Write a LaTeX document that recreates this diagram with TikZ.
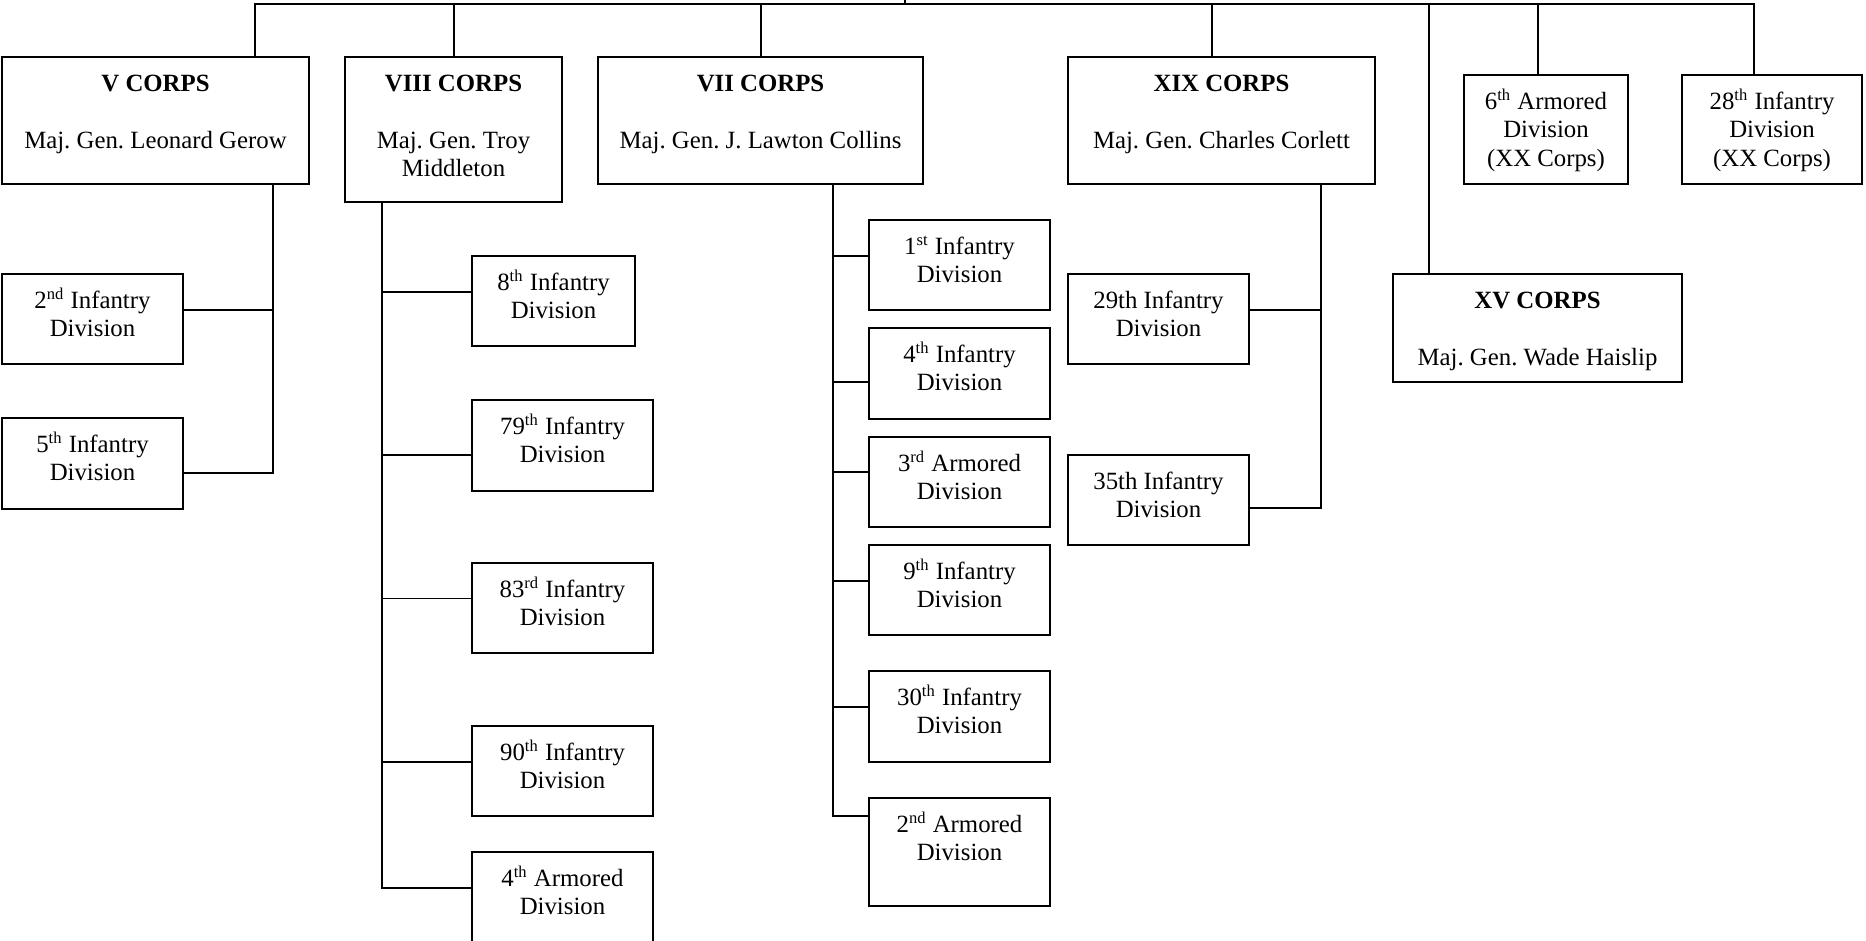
\documentclass[tikz,border=0pt]{standalone}
\usepackage{fontspec}
\setmainfont{Liberation Serif}
\frenchspacing

% ordinal suffix, raised without changing the line height
\newcommand\ord[1]{\textsuperscript{\smash{#1}}}

% \orgbox{name}{x1}{y1}{x2}{y2}{text}: framed box with its text set at the top
\newcommand\orgbox[6]{%
  \node[box, anchor=north west,
        minimum width={(#4-#2)*0.17mm}, minimum height={(#5-#3)*0.17mm}]
        (#1) at (#2,#3) {};
  \node[lbl, anchor=north, yshift=-2.41mm] (#1-txt) at (#1.north) {\strut #6};%
}

\begin{document}
\begin{tikzpicture}[x=0.17mm, y=-0.17mm,
  box/.style={draw, rectangle, line width=0.8pt, inner sep=0pt, outer sep=0pt},
  lbl/.style={align=center, inner sep=0pt, font=\fontsize{12pt}{13.7pt}\selectfont},
  link/.style={line width=0.8pt, line join=miter}]

\useasboundingbox (0,0) rectangle (1866,941);
\fill[white] (0,0) rectangle (1866,941);
\clip (0,0) rectangle (1866,941);

% ---- corps and independent divisions ----
\orgbox{V}{2}{57}{309}{184}{\textbf{V CORPS}\\[13.7pt]Maj. Gen. Leonard Gerow}
\orgbox{VIII}{345}{57}{562}{202}{\textbf{VIII CORPS}\\[13.7pt]Maj. Gen. Troy\\Middleton}
\orgbox{VII}{598}{57}{923}{184}{\textbf{VII CORPS}\\[13.7pt]Maj. Gen. J. Lawton Collins}
\orgbox{XIX}{1068}{57}{1375}{184}{\textbf{XIX CORPS}\\[13.7pt]Maj. Gen. Charles Corlett}
\orgbox{XV}{1393}{274}{1682}{382}{\textbf{XV CORPS}\\[13.7pt]Maj. Gen. Wade Haislip}
\orgbox{SixAr}{1464}{75}{1628}{184}{6\ord{th} Armored\\Division\\(XX Corps)}
\orgbox{TwEiInf}{1682}{75}{1862}{184}{28\ord{th} Infantry\\Division\\(XX Corps)}

% ---- V Corps divisions ----
\orgbox{InfB}{2}{274}{183}{364}{2\ord{nd} Infantry\\Division}
\orgbox{InfE}{2}{418}{183}{509}{5\ord{th} Infantry\\Division}

% ---- VIII Corps divisions ----
\orgbox{InfH}{472}{256}{635}{346}{8\ord{th} Infantry\\Division}
\orgbox{InfSN}{472}{400}{653}{491}{79\ord{th} Infantry\\Division}
\orgbox{InfET}{472}{563}{653}{653}{83\ord{rd} Infantry\\Division}
\orgbox{InfNZ}{472}{726}{653}{816}{90\ord{th} Infantry\\Division}
\orgbox{ArmD}{472}{852}{653}{960}{4\ord{th} Armored\\Division}

% ---- VII Corps divisions ----
\orgbox{InfA}{869}{220}{1050}{310}{1\ord{st} Infantry\\Division}
\orgbox{InfD}{869}{328}{1050}{419}{4\ord{th} Infantry\\Division}
\orgbox{ArmC}{869}{437}{1050}{527}{3\ord{rd} Armored\\Division}
\orgbox{InfI}{869}{545}{1050}{635}{9\ord{th} Infantry\\Division}
\orgbox{InfTZ}{869}{671}{1050}{762}{30\ord{th} Infantry\\Division}
\orgbox{ArmB}{869}{798}{1050}{906}{2\ord{nd} Armored\\Division}

% ---- XIX Corps divisions ----
\orgbox{InfTN}{1068}{274}{1249}{364}{29th Infantry\\Division}
\orgbox{InfTF}{1068}{455}{1249}{545}{35th Infantry\\Division}

% ---- top bar and drops ----
\coordinate (root) at (905,-20);
\coordinate (dV) at (255,4);
\coordinate (dVIII) at (454,4);
\coordinate (dVII) at (761,4);
\coordinate (dXIX) at (1212,4);
\coordinate (dXV) at (1429,4);
\coordinate (dSix) at (1538,4);
\coordinate (dTwe) at (1754,4);

\draw[link] (dV |- V.north) -- (dV) -- (dTwe) -- (dTwe |- TwEiInf.north);
\draw[link] (root) -- (root |- dV);
\draw[link] (dVIII) -- (dVIII |- VIII.north);
\draw[link] (dVII) -- (dVII |- VII.north);
\draw[link] (dXIX) -- (dXIX |- XIX.north);
\draw[link] (dXV) -- (dXV |- XV.north);
\draw[link] (dSix) -- (dSix |- SixAr.north);

% ---- V Corps trunk ----
\coordinate (jVa) at (273,310);
\coordinate (jVb) at (273,472.7);
\draw[link] (V.south -| jVa) -- (jVb) -- (InfE.east |- jVb);
\draw[link] (jVa) -- (InfB.east |- jVa);

% ---- VIII Corps trunk ----
\coordinate (jHa) at (381.7,292.3);
\coordinate (jHb) at (381.7,455);
\coordinate (jHc) at (381.7,598.6);
\coordinate (jHd) at (381.7,761.7);
\coordinate (jHe) at (381.7,887.7);
\draw[link] (VIII.south -| jHa) -- (jHe) -- (ArmD.west |- jHe);
\draw[link] (jHa) -- (InfH.west |- jHa);
\draw[link] (jHb) -- (InfSN.west |- jHb);
\draw[link] (jHc) -- (InfET.west |- jHc);
\draw[link] (jHd) -- (InfNZ.west |- jHd);

% ---- VII Corps trunk ----
\coordinate (jGa) at (833,256);
\coordinate (jGb) at (833,382.3);
\coordinate (jGc) at (833,472.3);
\coordinate (jGd) at (833,580.7);
\coordinate (jGe) at (833,707.3);
\coordinate (jGf) at (833,815.7);
\draw[link] (VII.south -| jGa) -- (jGf) -- (ArmB.west |- jGf);
\draw[link] (jGa) -- (InfA.west |- jGa);
\draw[link] (jGb) -- (InfD.west |- jGb);
\draw[link] (jGc) -- (ArmC.west |- jGc);
\draw[link] (jGd) -- (InfI.west |- jGd);
\draw[link] (jGe) -- (InfTZ.west |- jGe);

% ---- XIX Corps trunk ----
\coordinate (jXa) at (1320.7,310);
\coordinate (jXb) at (1320.7,508.3);
\draw[link] (XIX.south -| jXa) -- (jXb) -- (InfTF.east |- jXb);
\draw[link] (jXa) -- (InfTN.east |- jXa);

\end{tikzpicture}
\end{document}
